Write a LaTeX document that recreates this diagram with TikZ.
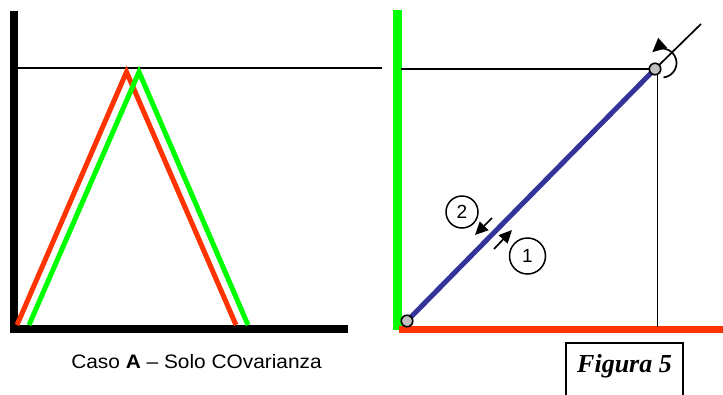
\documentclass[tikz,border=0pt]{standalone}
\usepackage{fontspec}
\setmainfont{Liberation Sans}
\newfontfamily\timesf{Liberation Serif}
\usetikzlibrary{arrows.meta,calc}
\definecolor{myred}{RGB}{255,51,0}
\definecolor{mygreen}{RGB}{0,255,0}
\definecolor{myblue}{RGB}{51,51,153}
\definecolor{mygray}{RGB}{192,192,192}
\tikzset{
  axisline/.style={line width=8pt},
  thinline/.style={line width=1.7pt},
  wave/.style={line width=5pt, miter limit=10},
  pivot/.style={circle, draw, fill=mygray, line width=1.6pt, inner sep=0pt, minimum size=11.5pt},
  numcirc/.style={circle, draw, line width=1.5pt, inner sep=0pt, font=\fontsize{19}{22}\selectfont},
  pusharrow/.style={thinline, -{Triangle[length=13pt,width=12pt]}},
}
\begin{document}
\begin{tikzpicture}[x=1pt,y=-1pt]
\useasboundingbox (0,0) rectangle (723,394);
% ---------- left panel ----------
\coordinate (ltop) at (14.3,10.7);
\coordinate (lcorner) at (14.3,333);
\coordinate (hstart) at (10.3,328.5);
\coordinate (hend) at (348,328.5);
\draw[axisline] (ltop) -- (lcorner);
\draw[axisline] (hstart) -- (hend);
\coordinate (refa) at (18,68);
\coordinate (refb) at (382,68);
\draw[thinline] (refa) -- (refb);
\coordinate (r1) at (17,325);
\coordinate (r2) at (126.5,72);
\coordinate (r3) at (236,325);
\coordinate (g1) at (29,325);
\coordinate (g2) at (139,72);
\coordinate (g3) at (248,325);
\draw[wave, myred] (r1) -- (r2) -- (r3);
\draw[wave, mygreen] (g1) -- (g2) -- (g3);
\node[xscale=1.07] (caption) at (196.5,362) {\fontsize{19.5}{22}\selectfont Caso \textbf{A} -- Solo COvarianza};
% ---------- right panel ----------
\coordinate (gtop) at (397.5,10);
\coordinate (gbot) at (397.5,330);
\draw[line width=8.5pt, mygreen] (gtop) -- (gbot);
\coordinate (rstart) at (399,329.5);
\coordinate (rend) at (723,329.5);
\draw[line width=7.5pt, myred] (rstart) -- (rend);
\coordinate (upp) at (655,69);
\coordinate (hl) at (401,69);
\coordinate (vb) at (657.5,327);
\coordinate (diagend) at (701,24);
\coordinate (lowp) at (407,321);
\draw[thinline] (hl) -- (upp);
\draw[thinline] (upp -| vb) -- (vb);
\draw[line width=5pt, myblue] (lowp) -- (upp);
\draw[thinline] (upp) -- (diagend);
\node[pivot] (lowpiv) at (lowp) {};
\node[pivot] (uppiv) at (upp) {};
% rotation arrow
\coordinate (rotc) at (662,63);
\draw[thinline, -{Triangle[length=14pt,width=13pt]}] ($(rotc)+(84:14.5)$) arc[start angle=84, end angle=-132, radius=14.5];
% force arrows and labels
\node[numcirc, minimum size=32pt] (n2) at (462,212) {2};
\node[numcirc, minimum size=36pt] (n1) at (527.5,256) {1};
\coordinate (a2s) at (492,218);
\coordinate (a2e) at (475,235);
\coordinate (a1s) at (494,249);
\coordinate (a1e) at (512,230);
\draw[pusharrow] (a2s) -- (a2e);
\draw[pusharrow] (a1s) -- (a1e);
% figure label
\coordinate (fb1) at (566,400);
\coordinate (fb2) at (566,343);
\coordinate (fb3) at (683,343);
\coordinate (fb4) at (683,400);
\draw[line width=1.8pt] (fb1) -- (fb2) -- (fb3) -- (fb4);
\node[anchor=base] (fig) at (624.5,372.7) {\timesf\bfseries\itshape\fontsize{26}{30}\selectfont Figura 5};
\end{tikzpicture}
\end{document}
